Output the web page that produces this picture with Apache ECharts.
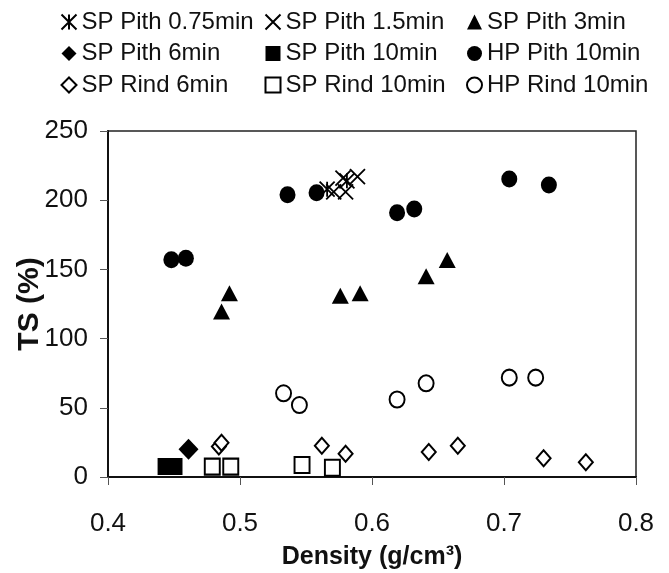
<!DOCTYPE html>
<html>
<head>
<meta charset="utf-8">
<script src="https://cdn.jsdelivr.net/npm/echarts@6/dist/echarts.min.js"></script>
<style>
  html, body { margin: 0; padding: 0; background: #fff; }
  #chart { width: 669px; height: 573px; }
</style>
</head>
<body>
<div id="chart"></div>
<script>
// 数据：密度 (g/cm3) 与 TS (%)
const spPith075 = [[0.566, 208], [0.581, 214]];
const spPith15 = [[0.571, 206], [0.580, 206], [0.578, 216], [0.589, 217]];
const spPith3 = [[0.486, 119.5], [0.492, 132.7], [0.576, 131], [0.591, 132.7], [0.641, 145], [0.657, 156.8]];
const spPith6 = [[0.461, 20]];
const spPith10 = [[0.444, 7.6], [0.450, 7.6]];
const hpPith10 = [[0.448, 157], [0.459, 158], [0.536, 204], [0.558, 205.4], [0.619, 191], [0.632, 193.6], [0.704, 215.3], [0.734, 211]];
const spRind6 = [[0.484, 22], [0.486, 24.8], [0.562, 22.6], [0.580, 16.8], [0.643, 18], [0.665, 22.6], [0.730, 13.5], [0.762, 10.6]];
const spRind10 = [[0.479, 7.5], [0.493, 7.5], [0.547, 8.7], [0.570, 6.7]];
const hpRind10 = [[0.533, 60.5], [0.545, 52], [0.619, 56], [0.641, 67.7], [0.704, 71.8], [0.724, 71.8]];

const xTicks = { min: 0.4, max: 0.8, interval: 0.1 };
const yTicks = { min: 0, max: 250, interval: 50 };

const INK = '#000';
const FONT = '"Liberation Sans", Arial, sans-serif';

const ASTERISK = 'path://M0,0L10,10M10,0L0,10M5,0L5,10';
const CROSS = 'path://M0,0L10,10M10,0L0,10';

function lineSeries(name, data, symbol, size) {
    // 只有线条的符号（星号、叉号）
    return {
        name: name, type: 'scatter', data: data,
        symbol: symbol, symbolSize: size,
        itemStyle: { color: 'none', borderColor: INK, borderWidth: 1.8, opacity: 1 }
    };
}

function solidSeries(name, data, symbol, size) {
    return {
        name: name, type: 'scatter', data: data,
        symbol: symbol, symbolSize: size,
        itemStyle: { color: INK, opacity: 1 }
    };
}

function hollowSeries(name, data, symbol, size) {
    return {
        name: name, type: 'scatter', data: data,
        symbol: symbol, symbolSize: size,
        itemStyle: { color: INK, borderColor: INK, borderWidth: 2.4, opacity: 1 }
    };
}

const series = [
    lineSeries('SP Pith 0.75min', spPith075, ASTERISK, [15, 15]),
    lineSeries('SP Pith 1.5min', spPith15, CROSS, [15, 15]),
    solidSeries('SP Pith 3min', spPith3, 'triangle', [17, 16]),
    solidSeries('SP Pith 6min', spPith6, 'diamond', [20, 21]),
    solidSeries('SP Pith 10min', spPith10, 'rect', [17, 17]),
    solidSeries('HP Pith 10min', hpPith10, 'circle', [16, 17]),
    hollowSeries('SP Rind 6min', spRind6, 'emptyDiamond', [14, 16]),
    hollowSeries('SP Rind 10min', spRind10, 'emptyRect', [15, 16]),
    hollowSeries('HP Rind 10min', hpRind10, 'emptyCircle', [15, 16])
];

function legendColumn(left, names) {
    return {
        orient: 'vertical', left: left, top: 5,
        itemWidth: 15, itemHeight: 15, itemGap: 7.5,
        selectedMode: false,
        data: names,
        textStyle: { fontFamily: FONT, fontSize: 24, color: '#111', lineHeight: 24, padding: [0, 0, 0, 0] }
    };
}

const chart = echarts.init(document.getElementById('chart'));

const option = {
    animation: false,
    backgroundColor: '#fff',
    legend: [
        legendColumn(54, ['SP Pith 0.75min', 'SP Pith 6min', 'SP Rind 6min']),
        legendColumn(258, ['SP Pith 1.5min', 'SP Pith 10min', 'SP Rind 10min']),
        legendColumn(461, ['SP Pith 3min', 'HP Pith 10min', 'HP Rind 10min'])
    ],
    grid: {
        left: 108, right: 33, top: 131, bottom: 96,
        outerBoundsMode: 'none',
        show: true, borderColor: '#222', borderWidth: 1.5
    },
    xAxis: {
        type: 'value',
        min: xTicks.min, max: xTicks.max, interval: xTicks.interval,
        name: 'Density (g/cm³)',
        nameLocation: 'middle', nameGap: 68, nameMoveOverlap: false,
        nameTextStyle: { fontFamily: FONT, fontSize: 25, fontWeight: 'bold', color: '#111' },
        axisLine: { onZero: false, lineStyle: { color: '#111', width: 2 } },
        axisTick: { show: true, length: 8, lineStyle: { color: '#555', width: 1 } },
        splitLine: { show: false },
        axisLabel: {
            margin: 34, fontFamily: FONT, fontSize: 26, color: '#111',
            formatter: v => v.toFixed(1)
        }
    },
    yAxis: {
        type: 'value',
        min: yTicks.min, max: yTicks.max, interval: yTicks.interval,
        name: 'TS (%)',
        nameLocation: 'middle', nameGap: 63, nameRotate: 90, nameMoveOverlap: false,
        nameTextStyle: { fontFamily: FONT, fontSize: 30, fontWeight: 'bold', color: '#111' },
        axisLine: { onZero: false, lineStyle: { color: '#111', width: 2 } },
        axisTick: { show: true, length: 8, lineStyle: { color: '#555', width: 1 } },
        splitLine: { show: false },
        axisLabel: { margin: 20, fontFamily: FONT, fontSize: 26, color: '#111' }
    },
    series: series
};

chart.setOption(option);
</script>
</body>
</html>
